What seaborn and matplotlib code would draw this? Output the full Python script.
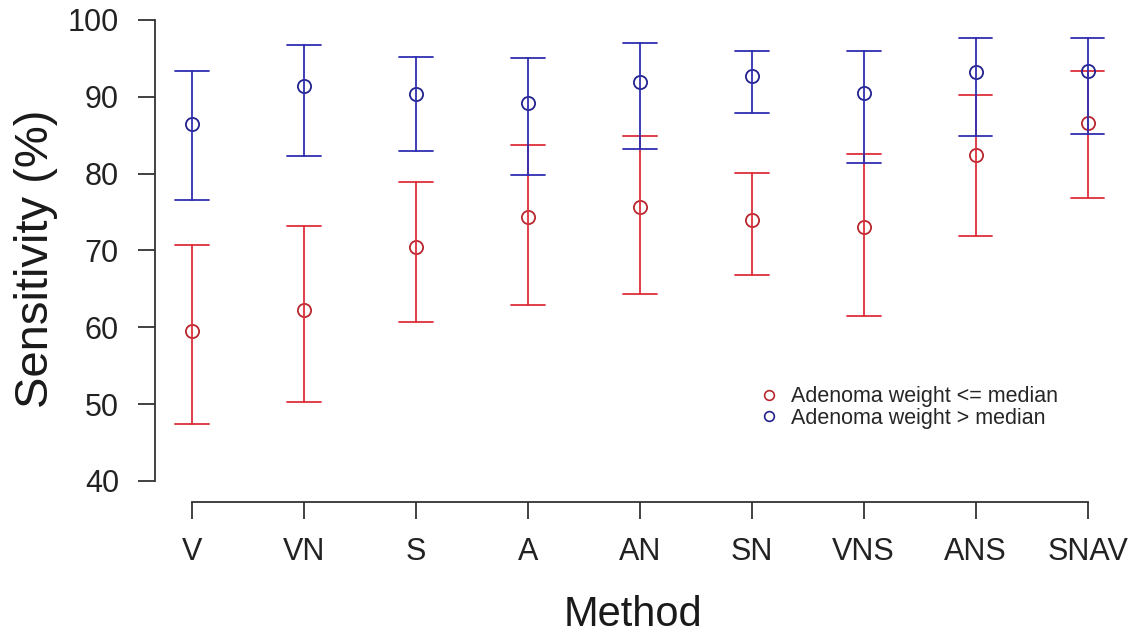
import numpy as np
import pandas as pd
import matplotlib
matplotlib.use("Agg")
import matplotlib.pyplot as plt
from matplotlib.lines import Line2D
import seaborn as sns

methods = ["V", "VN", "S", "A", "AN", "SN", "VNS", "ANS", "SNAV"]
low_est = [59.5, 62.2, 70.5, 74.3, 75.7, 73.9, 73.0, 82.4, 86.6]
low_lo = [47.4, 50.2, 60.7, 62.9, 64.3, 66.8, 61.5, 71.9, 76.8]
low_hi = [70.7, 73.2, 78.9, 83.7, 84.9, 80.1, 82.6, 90.2, 93.4]
high_est = [86.5, 91.4, 90.3, 89.2, 91.9, 92.7, 90.5, 93.2, 93.4]
high_lo = [76.5, 82.3, 83.0, 79.8, 83.2, 87.9, 81.4, 84.9, 85.1]
high_hi = [93.3, 96.7, 95.2, 95.1, 97.0, 96.0, 96.0, 97.7, 97.7]
groups = ["Adenoma weight <= median", "Adenoma weight > median"]
y_ticks = [40, 50, 60, 70, 80, 90, 100]

RED = "#dd2f3a"
BLUE = "#2f2fb0"
RED_PT = "#b8262e"
BLUE_PT = "#22228f"

rows = []
for g, (est, lo, hi) in zip(groups, [(low_est, low_lo, low_hi), (high_est, high_lo, high_hi)]):
    for m, e, l, h in zip(methods, est, lo, hi):
        for v in (l, e, h):
            rows.append({"Method": m, "Sensitivity": v, "group": g})
df = pd.DataFrame(rows)

sns.set_theme(style="ticks")
plt.rcParams["font.family"] = ["Liberation Sans", "DejaVu Sans"]

fig = plt.figure(figsize=(11.29, 6.39), dpi=100)
ax = fig.add_axes([155 / 1129, 1 - 502 / 639, (1110 - 155) / 1129, (502 - 15) / 639])

for g, col, pcol in zip(groups, [RED, BLUE], [RED_PT, BLUE_PT]):
    sub = df[df["group"] == g]
    sns.pointplot(
        data=sub, x="Method", y="Sensitivity", order=methods,
        estimator="median", errorbar=lambda v: (np.min(v), np.max(v)),
        color=col, linestyle="none", capsize=0.3, marker="o",
        markersize=9.5, markerfacecolor="none", markeredgecolor=pcol,
        markeredgewidth=1.3, err_kws={"linewidth": 1.3, "color": col},
        ax=ax,
    )

ax.set_xlim(-0.331, 8.20)
ax.set_ylim(37.24, 100.65)
ax.set_yticks(y_ticks)
ax.set_yticklabels([str(t) for t in y_ticks])

for s in ["top", "right"]:
    ax.spines[s].set_visible(False)
ax.spines["left"].set_bounds(40, 100)
ax.spines["bottom"].set_bounds(0, 8)
for s in ["left", "bottom"]:
    ax.spines[s].set_color("#333333")
    ax.spines[s].set_linewidth(1.3)

ax.tick_params(axis="y", length=12, width=1.3, color="#333333", labelsize=22, pad=14, labelcolor="#222222")
ax.tick_params(axis="x", length=12, width=1.3, color="#333333", labelsize=22, pad=13, labelcolor="#222222")

ax.set_xlabel("Method", fontsize=30, labelpad=20, color="#1a1a1a")
ax.set_ylabel("Sensitivity (%)", fontsize=34, labelpad=7, color="#1a1a1a")

handles = [
    Line2D([], [], linestyle="none", marker="o", markersize=7, markerfacecolor="none",
           markeredgecolor=RED_PT, markeredgewidth=1.2),
    Line2D([], [], linestyle="none", marker="o", markersize=7, markerfacecolor="none",
           markeredgecolor=BLUE_PT, markeredgewidth=1.2),
]
ax.legend(handles, groups, loc="upper left", bbox_to_anchor=(0.634, 0.238),
          frameon=False, fontsize=15.5, handlelength=0.8, handletextpad=0.6,
          labelspacing=0.02, borderpad=0, borderaxespad=0)

fig.savefig("out.png", dpi=100, facecolor="white")
